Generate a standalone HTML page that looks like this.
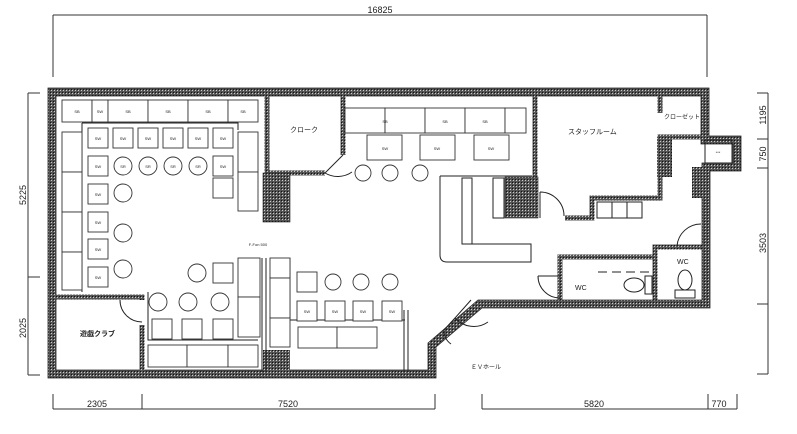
<!DOCTYPE html>
<html><head><meta charset="utf-8"><style>
html,body{margin:0;padding:0;background:#fff;}
svg{display:block;}
text{font-family:"Liberation Sans","Noto Sans CJK JP",sans-serif;fill:#222;}
.t{font-size:4px;text-anchor:middle;fill:#444;}
</style></head><body>
<svg width="797" height="434" viewBox="0 0 797 434" xmlns="http://www.w3.org/2000/svg">
<defs>
<pattern id="h" width="3" height="3" patternUnits="userSpaceOnUse"><rect width="3" height="3" fill="#555"/><rect width="1" height="1" fill="#ccc"/><rect x="2" y="2" width="1" height="1" fill="#111"/></pattern>
</defs>
<g stroke="#333" stroke-width="1" fill="none">
<line x1="53" y1="15" x2="707" y2="15"/><line x1="53" y1="15" x2="53" y2="77"/><line x1="707" y1="15" x2="707" y2="77"/>
<line x1="53" y1="409" x2="435" y2="409"/><line x1="482" y1="409" x2="737" y2="409"/>
<line x1="53" y1="394" x2="53" y2="409"/><line x1="142" y1="394" x2="142" y2="409"/><line x1="435" y1="394" x2="435" y2="409"/><line x1="482" y1="394" x2="482" y2="409"/><line x1="708" y1="394" x2="708" y2="409"/><line x1="737" y1="394" x2="737" y2="409"/>
<line x1="28" y1="93" x2="28" y2="375"/><line x1="28" y1="93" x2="40" y2="93"/><line x1="28" y1="277" x2="40" y2="277"/><line x1="28" y1="375" x2="40" y2="375"/>
<line x1="768" y1="93" x2="768" y2="374"/><line x1="757" y1="93" x2="768" y2="93"/><line x1="757" y1="139" x2="768" y2="139"/><line x1="757" y1="168" x2="768" y2="168"/><line x1="757" y1="304" x2="768" y2="304"/><line x1="757" y1="374" x2="768" y2="374"/>
</g>
<g font-size="9" text-anchor="middle">
<text x="380" y="13">16825</text>
<text x="97" y="407">2305</text><text x="288" y="407">7520</text><text x="594" y="407">5820</text><text x="719" y="407">770</text>
<text transform="translate(26,195) rotate(-90)">5225</text>
<text transform="translate(26,328) rotate(-90)">2025</text>
<text transform="translate(766,115) rotate(-90)">1195</text>
<text transform="translate(766,154) rotate(-90)">750</text>
<text transform="translate(766,243) rotate(-90)">3503</text>
</g>
<path d="M52,92 H705 V140 H737 V167 H706 V304 H480 L432,345 V374 H52 Z" fill="none" stroke="url(#h)" stroke-width="8"/>
<path d="M48,88 H709 V136 H741 V171 H710 V308 H482 L436,347 V378 H48 Z M56,96 H701 V144 H733 V163 H702 V300 H478 L428,343 V370 H56 Z" fill="none" stroke="#222" stroke-width="0.8"/>
<g fill="none" stroke="url(#h)" stroke-width="5">
<path d="M52,297 H142 V300"/><path d="M142,325 V372"/>
<path d="M267,94 V173 H325"/><path d="M343,94 V155"/>
<path d="M535,94 V218"/><path d="M565,218 H592 V198 H660 V137 H705"/>
<path d="M660,94 V113"/>
<path d="M560,300 V257 H655 V300"/><path d="M655,257 V247 H702"/>
</g>
<rect x="263" y="173" width="27" height="49" fill="url(#h)" stroke="#222" stroke-width="0.6"/>
<rect x="263" y="350" width="27" height="22" fill="url(#h)"/>
<rect x="505" y="177" width="33" height="41" fill="url(#h)" stroke="#222" stroke-width="0.6"/>
<rect x="657" y="137" width="15" height="40" fill="url(#h)"/>
<rect x="692" y="167" width="12" height="31" fill="url(#h)"/>
<g fill="none" stroke="#222" stroke-width="1">
<path d="M120,300 A22,22 0 0 0 142,322"/>
<path d="M325,173 L343,155 M325,173 A25,25 0 0 0 352,172"/>
<path d="M540,192 A24,24 0 0 1 564,216 M540,192 V218"/>
<path d="M538,276 A22,22 0 0 0 560,298 M560,276 H538"/>
<path d="M677,246 A24,24 0 0 1 701,224"/>
<path d="M471,300 L455,318 A25,25 0 0 0 488,322 M455,318 L444,330 A16,16 0 0 0 451,344"/>
<path d="M262,258 V372 M266,258 V372"/><path d="M404,310 V372 M408,310 V372"/>
<path d="M82,123 V292 M82,123 H238 V130"/>
<path d="M148,292 V340 H258"/>
<path d="M290,258 V320 H405"/>
<path d="M440,176 H532"/>
<path d="M440,176 V255 Q440,262 447,262 H531 V244 H462 V178"/>
<rect x="462" y="178" width="10" height="66"/>
<rect x="493" y="178" width="11" height="40"/>
<path d="M598,272 H652" stroke-dasharray="9,5"/>
<rect x="597" y="202" width="45" height="16"/>
<line x1="612" y1="202" x2="612" y2="218"/><line x1="627" y1="202" x2="627" y2="218"/>
<rect x="705" y="140" width="27" height="23"/>
<ellipse cx="634" cy="285" rx="10" ry="7"/><rect x="645" y="276" width="7" height="18"/>
<ellipse cx="685" cy="280" rx="7" ry="10"/><rect x="675" y="290" width="20" height="8"/>
</g>
<g fill="#fff" stroke="#333" stroke-width="0.9">
<rect x="62" y="100" width="30" height="22"/><rect x="92" y="100" width="16" height="22"/><rect x="108" y="100" width="40" height="22"/><rect x="148" y="100" width="40" height="22"/><rect x="188" y="100" width="40" height="22"/><rect x="228" y="100" width="30" height="22"/>
<rect x="62" y="132" width="20" height="40"/><rect x="62" y="172" width="20" height="40"/><rect x="62" y="212" width="20" height="40"/><rect x="62" y="252" width="20" height="38"/>
<rect x="238" y="132" width="20" height="40"/><rect x="238" y="172" width="20" height="39"/>
<rect x="88" y="128" width="20" height="20"/><rect x="113" y="128" width="20" height="20"/><rect x="138" y="128" width="20" height="20"/><rect x="163" y="128" width="20" height="20"/><rect x="188" y="128" width="20" height="20"/><rect x="213" y="128" width="20" height="20"/>
<rect x="88" y="156" width="20" height="20"/><rect x="213" y="156" width="20" height="20"/><rect x="213" y="178" width="20" height="20"/>
<rect x="88" y="184" width="20" height="20"/><rect x="88" y="212" width="20" height="20"/><rect x="88" y="239" width="20" height="20"/><rect x="88" y="267" width="20" height="20"/>
<circle cx="123" cy="166" r="9"/><circle cx="148" cy="166" r="9"/><circle cx="173" cy="166" r="9"/><circle cx="198" cy="166" r="9"/>
<circle cx="123" cy="193" r="9"/><circle cx="123" cy="233" r="9"/><circle cx="123" cy="269" r="9"/>
<circle cx="197" cy="273" r="9"/><rect x="213" y="263" width="20" height="20"/>
<circle cx="158" cy="302" r="9"/><circle cx="188" cy="302" r="9"/><circle cx="220" cy="302" r="9"/>
<rect x="152" y="319" width="20" height="20"/><rect x="182" y="319" width="20" height="20"/><rect x="213" y="319" width="20" height="20"/>
<rect x="148" y="345" width="39" height="22"/><rect x="187" y="345" width="41" height="22"/><rect x="228" y="345" width="30" height="22"/>
<rect x="238" y="258" width="22" height="39"/><rect x="238" y="297" width="22" height="40"/>
<rect x="270" y="258" width="20" height="20"/><rect x="270" y="278" width="20" height="40"/><rect x="270" y="318" width="20" height="29"/>
<rect x="297" y="272" width="20" height="20"/><circle cx="333" cy="282" r="8"/><circle cx="361" cy="282" r="8"/><circle cx="390" cy="282" r="8"/>
<rect x="297" y="301" width="20" height="20"/><rect x="325" y="301" width="20" height="20"/><rect x="353" y="301" width="20" height="20"/><rect x="382" y="301" width="20" height="20"/>
<rect x="298" y="327" width="39" height="21"/><rect x="337" y="327" width="40" height="21"/>
<rect x="345" y="108" width="40" height="25"/><rect x="385" y="108" width="40" height="25"/><rect x="425" y="108" width="40" height="25"/><rect x="465" y="108" width="40" height="25"/><rect x="505" y="108" width="21" height="25"/>
<rect x="367" y="135" width="35" height="25"/><rect x="420" y="135" width="35" height="25"/><rect x="474" y="135" width="35" height="25"/>
<circle cx="363" cy="173" r="8"/><circle cx="390" cy="173" r="8"/><circle cx="420" cy="173" r="8"/>
</g>
<g class="t">
<text x="77" y="113">SB</text><text x="100" y="113">SW</text><text x="128" y="113">SB</text><text x="168" y="113">SB</text><text x="208" y="113">SB</text><text x="243" y="113">SB</text>
<text x="98" y="140">SW</text><text x="123" y="140">SW</text><text x="148" y="140">SW</text><text x="173" y="140">SW</text><text x="198" y="140">SW</text><text x="223" y="140">SW</text>
<text x="98" y="168">SW</text><text x="123" y="168">SR</text><text x="148" y="168">SR</text><text x="173" y="168">SR</text><text x="198" y="168">SR</text><text x="223" y="168">SW</text>
<text x="98" y="196">SW</text><text x="98" y="224">SW</text><text x="98" y="251">SW</text><text x="98" y="279">SW</text>
<text x="385" y="123">SB</text><text x="445" y="123">SB</text><text x="485" y="123">SB</text><text x="385" y="150">SW</text><text x="437" y="150">SW</text><text x="491" y="150">SW</text>
<text x="307" y="313">SW</text><text x="335" y="313">SW</text><text x="363" y="313">SW</text><text x="392" y="313">SW</text>
<text x="718" y="154">***</text><text x="258" y="246">F-Fon 500</text>
</g>
<g font-size="7">
<text x="290" y="132">クローク</text>
<text x="568" y="134">スタッフルーム</text>
<text x="664" y="119" font-size="6">クローゼット</text>
<text x="575" y="290">WC</text><text x="677" y="264">WC</text>
<text x="80" y="336" font-weight="bold">遊戯クラブ</text>
<text x="471" y="369" font-size="6">ＥＶホール</text>
</g>
</svg>
</body></html>
